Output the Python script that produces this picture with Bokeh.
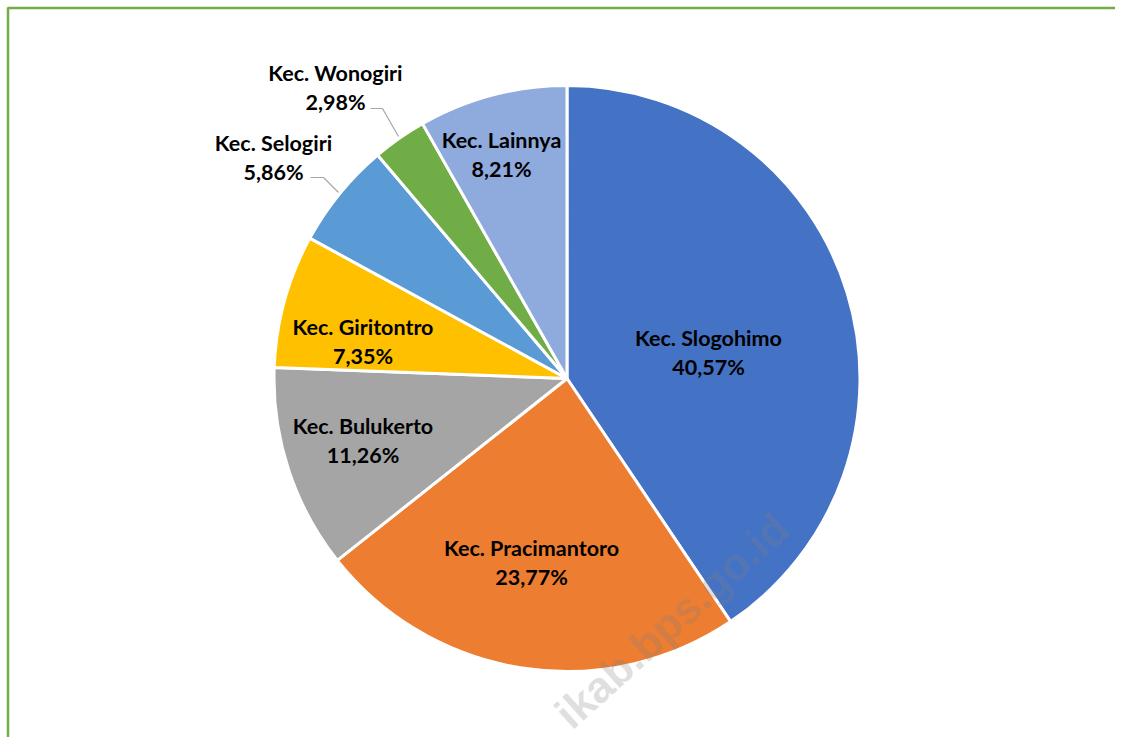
from bokeh.plotting import figure
from bokeh.models import Range1d, ColumnDataSource
from bokeh.core.properties import value
from bokeh.embed import file_html
from bokeh.resources import INLINE

# ---- data ----
categories = ["Kec. Slogohimo", "Kec. Pracimantoro", "Kec. Bulukerto", "Kec. Giritontro",
              "Kec. Selogiri", "Kec. Wonogiri", "Kec. Lainnya"]
shares = [40.57, 23.77, 11.26, 7.35, 5.86, 2.98, 8.21]
pct_labels = ["40,57%", "23,77%", "11,26%", "7,35%", "5,86%", "2,98%", "8,21%"]
colors = ["#4472C4", "#ED7D31", "#A5A5A5", "#FFC000", "#5B9BD5", "#70AD47", "#8FAADC"]
watermark = "ikab.bps.go.id"

# ---- layout (screen pixel coordinates) ----
W, H = 1115, 737
CX, CY, R = 566.5, 378.0, 293.0
label_pos = [(708, 352), (531, 561.5), (362.5, 440), (362.5, 340.5), (273, 157), (335, 87), (501, 154)]
LINE_GAP = 14.5
leaders = {4: [(310, 177), (323, 177), (338, 192)], 5: [(370, 108), (382, 108), (398, 136)]}

def sy(y):
    return -y

p = figure(width=W, height=H, output_backend="svg", toolbar_location=None,
           x_range=Range1d(0, W), y_range=Range1d(-H, 0),
           min_border=0, outline_line_color=None)
p.axis.visible = False
p.grid.visible = False
p.background_fill_color = "white"

# slices, clockwise from 12 o'clock
total = sum(shares)
starts, ends = [], []
cum = 0.0
for s in shares:
    a0 = 90 - cum / total * 360
    cum += s
    a1 = 90 - cum / total * 360
    starts.append(a1)
    ends.append(a0)

src = ColumnDataSource(dict(start=starts, end=ends, color=colors, cat=categories))
p.wedge(x=CX, y=sy(CY), radius=R, start_angle="start", end_angle="end",
        start_angle_units="deg", end_angle_units="deg", direction="anticlock",
        fill_color="color", line_color="white", line_width=3, source=src)

# leader lines
for i, pts in leaders.items():
    p.line([q[0] for q in pts], [sy(q[1]) for q in pts], line_color="#A6A6A6", line_width=1.2)

# labels
font = value("Lato")
for i, (lx, ly) in enumerate(label_pos):
    p.text(x=[lx], y=[sy(ly - LINE_GAP)], text=[categories[i]], text_font=font,
           text_font_size="21.5px", text_font_style="bold", text_color="black",
           text_align="center", text_baseline="middle")
    p.text(x=[lx], y=[sy(ly + LINE_GAP)], text=[pct_labels[i]], text_font=font,
           text_font_size="21.5px", text_font_style="bold", text_color="black",
           text_align="center", text_baseline="middle")

# watermark
p.text(x=[781], y=[sy(521)], text=[watermark], text_font=value("Liberation Sans"),
       text_font_size="44px", text_font_style="bold", text_color="#808080", text_alpha=0.25,
       angle=42, angle_units="deg", text_align="right", text_baseline="middle")

# green frame (top & left visible)
p.line([7, W], [sy(7.5), sy(7.5)], line_color="#70AD47", line_width=2.5)
p.line([7.5, 7.5], [sy(7), sy(H)], line_color="#70AD47", line_width=2.5)

open("out.html", "w").write(file_html(p, INLINE))
